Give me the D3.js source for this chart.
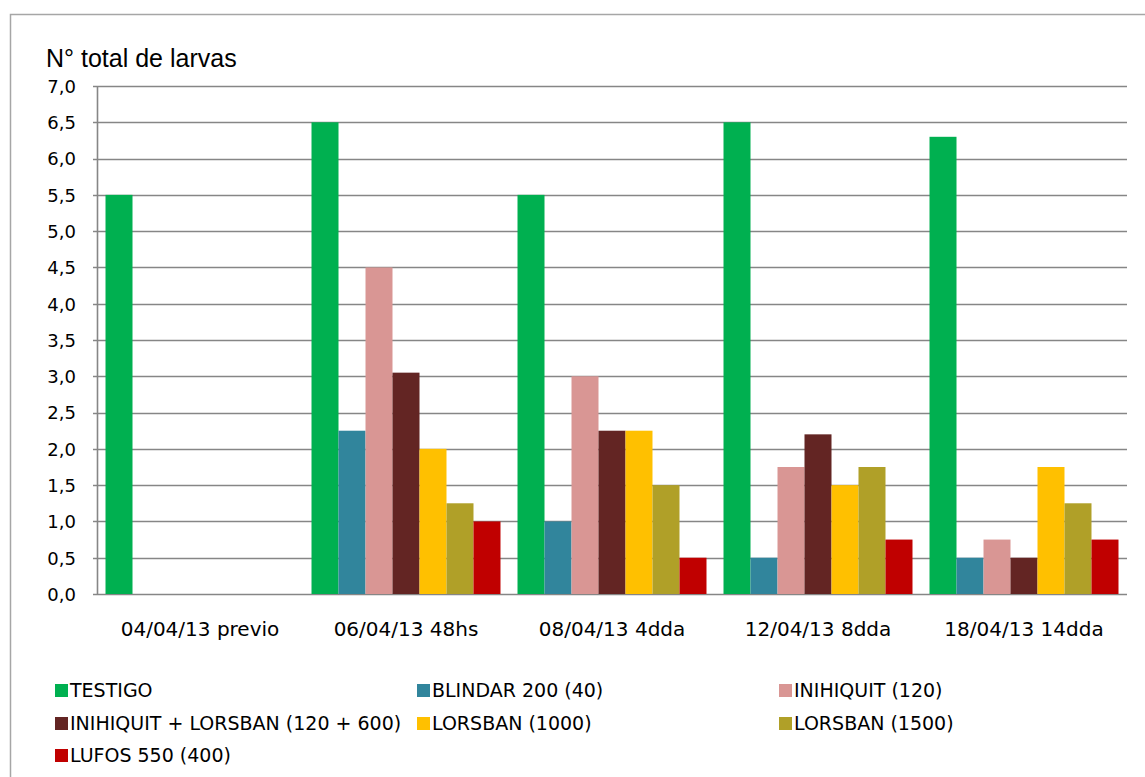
<!DOCTYPE html>
<html>
<head>
<meta charset="utf-8">
<script src="https://cdn.jsdelivr.net/npm/d3@7"></script>
<style>
  html, body { margin: 0; padding: 0; background: #fff; }
  svg { display: block; }
</style>
</head>
<body>
<div id="chart"></div>
<script>
// datos
const fechas = ['04/04/13 previo', '06/04/13 48hs', '08/04/13 4dda', '12/04/13 8dda', '18/04/13 14dda'];
const tratamientos = ['TESTIGO', 'BLINDAR 200 (40)', 'INIHIQUIT (120)', 'INIHIQUIT + LORSBAN (120 + 600)', 'LORSBAN (1000)', 'LORSBAN (1500)', 'LUFOS 550 (400)'];

const testigo    = [5.5, 6.5, 5.5, 6.5, 6.3];
const blindar    = [null, 2.25, 1.0, 0.5, 0.5];
const inihiquit  = [null, 4.5, 3.0, 1.75, 0.75];
const iniLorsban = [null, 3.05, 2.25, 2.2, 0.5];
const lorsban1000 = [null, 2.0, 2.25, 1.5, 1.75];
const lorsban1500 = [null, 1.25, 1.5, 1.75, 1.25];
const lufos      = [null, 1.0, 0.5, 0.75, 0.75];

const yTicks = [0, 0.5, 1, 1.5, 2, 2.5, 3, 3.5, 4, 4.5, 5, 5.5, 6, 6.5, 7];

const colores = ['#00B050', '#31859C', '#D99694', '#632523', '#FFC000', '#B0A028', '#C00000'];
const series = [testigo, blindar, inihiquit, iniLorsban, lorsban1000, lorsban1500, lufos];

const width = 1145;
const height = 777;
const plot = { left: 97, right: 1127, top: 86, bottom: 594 };

const svg = d3.select('#chart').append('svg')
    .attr('width', width)
    .attr('height', height);

// marco exterior
svg.append('rect')
    .attr('x', 10.5).attr('y', 14.5)
    .attr('width', 1200).attr('height', 900)
    .attr('fill', '#fff')
    .attr('stroke', '#a6a6a6')
    .attr('stroke-width', 1.5);

// escalas
const x0 = d3.scaleBand().domain(fechas).range([plot.left, plot.right]).padding(0);
const x1 = d3.scaleBand().domain(d3.range(tratamientos.length))
    .range([0, x0.bandwidth()]).paddingInner(0).paddingOuter(0.315);
const y = d3.scaleLinear().domain([0, 7]).range([plot.bottom, plot.top]);

// lineas de grilla
svg.append('g')
    .selectAll('line')
    .data(yTicks)
    .join('line')
    .attr('x1', plot.left - 4)
    .attr('x2', plot.right)
    .attr('y1', d => Math.round(y(d)) + 0.5)
    .attr('y2', d => Math.round(y(d)) + 0.5)
    .attr('stroke', '#868686')
    .attr('stroke-width', 1.6);

// barras
const grupos = svg.append('g')
    .selectAll('g')
    .data(fechas)
    .join('g')
    .attr('transform', d => `translate(${x0(d)},0)`);

grupos.selectAll('rect')
    .data((d, i) => series.map((s, k) => ({ k: k, v: s[i] })).filter(e => e.v !== null))
    .join('rect')
    .attr('x', d => x1(d.k))
    .attr('width', x1.bandwidth())
    .attr('y', d => y(d.v))
    .attr('height', d => y(0) - y(d.v))
    .attr('fill', d => colores[d.k]);

// eje vertical
svg.append('line')
    .attr('x1', plot.left + 0.5).attr('x2', plot.left + 0.5)
    .attr('y1', plot.top).attr('y2', plot.bottom)
    .attr('stroke', '#868686').attr('stroke-width', 1.6);

const yAxis = svg.append('g')
    .attr('transform', `translate(${plot.left - 21},0)`)
    .call(d3.axisLeft(y).tickValues(yTicks).tickSize(0).tickPadding(0)
        .tickFormat(d => d3.format('.1f')(d).replace('.', ',')));
yAxis.select('.domain').remove();
yAxis.selectAll('text')
    .attr('x', 0)
    .attr('dy', '0.35em')
    .style('font-family', '"DejaVu Sans", sans-serif')
    .style('font-size', '18px')
    .style('fill', '#000');

// eje horizontal
const xAxis = svg.append('g')
    .attr('transform', `translate(0,${plot.bottom})`)
    .call(d3.axisBottom(x0).tickSize(0).tickPadding(0));
xAxis.select('.domain').remove();
xAxis.selectAll('text')
    .attr('y', 42)
    .attr('dy', 0)
    .style('font-family', '"DejaVu Sans", sans-serif')
    .style('font-size', '20px')
    .style('fill', '#000');

// titulo del eje
svg.append('text')
    .attr('x', 46)
    .attr('y', 67)
    .text('N° total de larvas')
    .style('font-family', '"Liberation Sans", Arial, sans-serif')
    .style('font-size', '25px')
    .style('fill', '#000');

// leyenda
const legX = [55, 417, 779];
const legY = [690, 723, 755];
const leyenda = svg.append('g')
    .selectAll('g')
    .data(tratamientos)
    .join('g')
    .attr('transform', (d, i) => `translate(${legX[i % 3]},${legY[Math.floor(i / 3)]})`);

leyenda.append('rect')
    .attr('x', 0).attr('y', -6)
    .attr('width', 13).attr('height', 13)
    .attr('fill', (d, i) => colores[i]);

leyenda.append('text')
    .attr('x', 15)
    .attr('y', 0)
    .attr('dy', '0.36em')
    .text(d => d)
    .style('font-family', '"DejaVu Sans", sans-serif')
    .style('font-size', '19px')
    .style('fill', '#000');
</script>
</body>
</html>
